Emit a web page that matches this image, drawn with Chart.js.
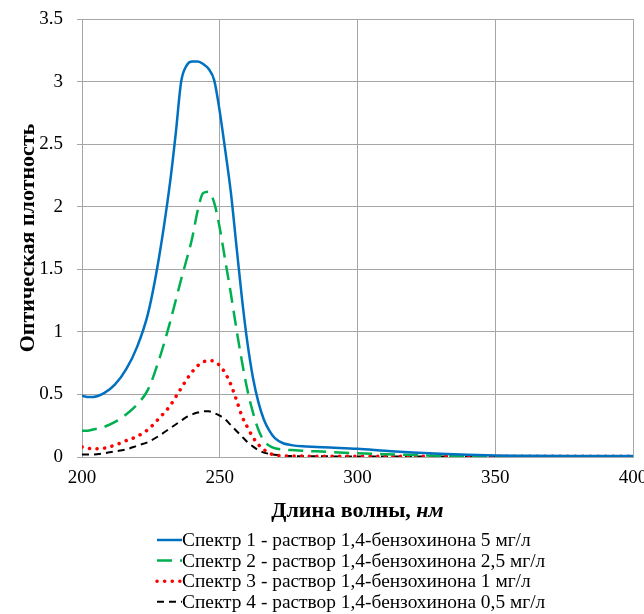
<!DOCTYPE html>
<html>
<head>
<meta charset="utf-8">
<script src="https://cdn.jsdelivr.net/npm/chart.js@4"></script>
<style>
  html, body { margin: 0; padding: 0; background: #fff; }
  #wrap { width: 644px; height: 614px; }
</style>
</head>
<body>
<div id="wrap"><canvas id="chartContainer" width="644" height="614"></canvas></div>
<script>
// длины волн, нм
var wavelengths = [200, 202, 204, 208, 212, 216, 220, 224, 228, 232, 234, 236, 238, 240, 242, 244, 246, 248, 250,
    252, 254, 256, 258, 260, 262, 264, 266, 268, 270, 273, 276, 280, 285, 290, 300, 310, 320, 330, 340, 350, 360, 380, 400];

// оптическая плотность для каждого спектра
var spectrum1 = [0.49, 0.48, 0.48, 0.51, 0.58, 0.70, 0.88, 1.15, 1.60, 2.20, 2.58, 3.00, 3.13, 3.16, 3.16, 3.14, 3.10, 3.01, 2.76,
    2.45, 2.12, 1.70, 1.28, 0.92, 0.64, 0.44, 0.30, 0.21, 0.15, 0.11, 0.095, 0.085, 0.08, 0.075, 0.065, 0.05, 0.036, 0.026, 0.018, 0.012, 0.01, 0.008, 0.008];
var spectrum2 = [0.21, 0.21, 0.22, 0.24, 0.28, 0.34, 0.42, 0.54, 0.78, 1.08, 1.25, 1.42, 1.58, 1.75, 1.97, 2.11, 2.12, 2.03, 1.83,
    1.57, 1.31, 1.03, 0.77, 0.54, 0.36, 0.22, 0.13, 0.09, 0.07, 0.06, 0.055, 0.05, 0.045, 0.04, 0.03, 0.022, 0.015, 0.01, 0.008, 0.006, 0.005, 0.005, 0.005];
var spectrum3 = [0.08, 0.07, 0.065, 0.07, 0.095, 0.13, 0.165, 0.22, 0.31, 0.41, 0.48, 0.55, 0.62, 0.68, 0.73, 0.76, 0.77, 0.765, 0.73,
    0.67, 0.58, 0.46, 0.33, 0.24, 0.16, 0.10, 0.06, 0.03, 0.015, 0.01, 0.008, 0.007, 0.006, 0.006, 0.005, 0.005, 0.005, 0.005, 0.005, 0.005, 0.005, 0.005, 0.005];
var spectrum4 = [0.02, 0.02, 0.02, 0.03, 0.045, 0.06, 0.09, 0.12, 0.17, 0.23, 0.26, 0.29, 0.32, 0.34, 0.355, 0.365, 0.365, 0.35, 0.33,
    0.30, 0.255, 0.21, 0.165, 0.12, 0.085, 0.055, 0.035, 0.025, 0.018, 0.012, 0.008, 0.006, 0.005, 0.005, 0.004, 0.004, 0.004, 0.004, 0.004, 0.004, 0.004, 0.004, 0.004];

var legendLabels = [
    'Спектр 1 - раствор 1,4-бензохинона 5 мг/л',
    'Спектр 2 - раствор 1,4-бензохинона 2,5 мг/л',
    'Спектр 3 - раствор 1,4-бензохинона 1 мг/л',
    'Спектр 4 - раствор 1,4-бензохинона 0,5 мг/л'
];
var xTicks = [200, 250, 300, 350, 400];

var serif = '"Liberation Serif", "Times New Roman", serif';

function toPoints(values) {
    return wavelengths.map(function(w, i) { return { x: w, y: values[i] }; });
}

// легенда и подпись оси X рисуются вручную (курсив "нм", образцы линий)
var extraText = {
    id: 'extraText',
    afterDraw: function(chart) {
        var c = chart.ctx;
        c.save();
        // подпись оси X
        var f1 = 'bold 22px ' + serif;
        var f2 = 'bold italic 22px ' + serif;
        var part1 = 'Длина волны, ', part2 = 'нм';
        c.font = f1; var w1 = c.measureText(part1).width;
        c.font = f2; var w2 = c.measureText(part2).width;
        var cx = (chart.chartArea.left + chart.chartArea.right) / 2;
        var x0 = cx - (w1 + w2) / 2;
        c.fillStyle = '#000';
        c.textBaseline = 'middle';
        c.font = f1; c.fillText(part1, x0, 511);
        c.font = f2; c.fillText(part2, x0 + w1, 511);

        // легенда
        c.font = '19.4px ' + serif;
        chart.data.datasets.forEach(function(ds, i) {
            var y = 540 + i * 20.6;
            c.beginPath();
            c.strokeStyle = ds.borderColor;
            c.lineWidth = ds.borderWidth;
            c.lineCap = ds.borderCapStyle || 'butt';
            c.setLineDash(ds.borderDash || []);
            c.moveTo(157, y);
            c.lineTo(182, y);
            c.stroke();
            c.setLineDash([]);
            c.fillStyle = '#000';
            c.fillText(legendLabels[i], 182, y + 1);
        });
        c.restore();
    }
};

var ctx = document.getElementById('chartContainer').getContext('2d');
ctx.chart = new Chart(ctx, {
    type: 'line',
    data: {
        datasets: [{
            label: legendLabels[0],
            data: toPoints(spectrum1),
            borderColor: '#0070C0',
            borderWidth: 2.5
        }, {
            label: legendLabels[1],
            data: toPoints(spectrum2),
            borderColor: '#00B050',
            borderWidth: 2.5,
            borderDash: [15, 8]
        }, {
            label: legendLabels[2],
            data: toPoints(spectrum3),
            borderColor: '#FF0000',
            borderWidth: 3.5,
            borderCapStyle: 'round',
            borderDash: [0.1, 7.5]
        }, {
            label: legendLabels[3],
            data: toPoints(spectrum4),
            borderColor: '#000000',
            borderWidth: 2,
            borderDash: [7, 5]
        }]
    },
    options: {
        responsive: false,
        animation: false,
        events: [],
        elements: {
            point: { radius: 0 },
            line: { cubicInterpolationMode: 'monotone', fill: false }
        },
        layout: { padding: { left: 0, right: 11, top: 19, bottom: 0 } },
        plugins: {
            legend: { display: false },
            tooltip: { enabled: false }
        },
        scales: {
            x: {
                type: 'linear',
                min: 200,
                max: 400,
                afterBuildTicks: function(scale) {
                    scale.ticks = xTicks.map(function(v) { return { value: v }; });
                },
                afterFit: function(scale) {
                    scale.height = 157;
                    scale.paddingLeft = 0;
                    scale.paddingRight = 0;
                },
                ticks: {
                    font: { family: serif, size: 19 },
                    color: '#000',
                    padding: 10,
                    maxRotation: 0
                },
                grid: { color: '#a6a6a6', lineWidth: 1, tickLength: 0 },
                border: { color: '#a6a6a6' }
            },
            y: {
                min: 0,
                max: 3.5,
                afterFit: function(scale) {
                    scale.width = 82;
                    scale.paddingTop = 0;
                    scale.paddingBottom = 0;
                },
                ticks: {
                    stepSize: 0.5,
                    font: { family: serif, size: 19 },
                    color: '#000',
                    padding: 14,
                    callback: function(v) { return String(v); }
                },
                grid: { color: '#a6a6a6', lineWidth: 1, tickLength: 5 },
                border: { color: '#a6a6a6' },
                title: {
                    display: true,
                    text: 'Оптическая плотность',
                    font: { family: serif, size: 22, weight: 'bold' },
                    color: '#000',
                    padding: { top: 15, bottom: 0 }
                }
            }
        }
    },
    plugins: [extraText]
});
</script>
</body>
</html>
